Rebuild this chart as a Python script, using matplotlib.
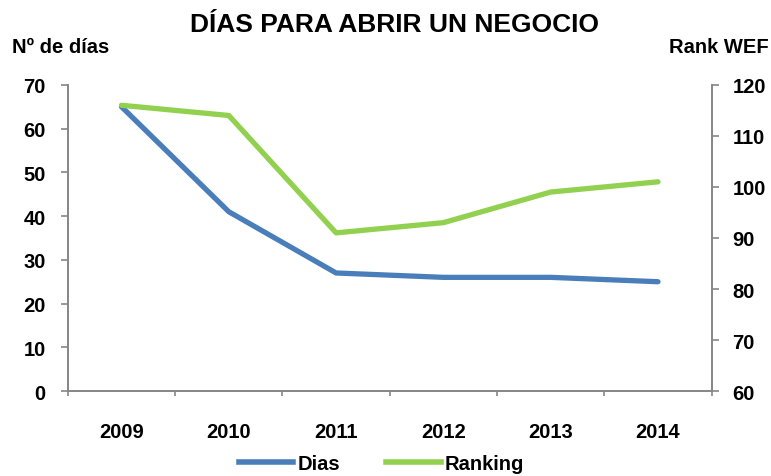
import matplotlib.pyplot as plt
from matplotlib.lines import Line2D

years = ['2009', '2010', '2011', '2012', '2013', '2014']
dias = [65, 41, 27, 26, 26, 25]
ranking = [116, 114, 91, 93, 99, 101]

plt.rcParams['font.family'] = ['Liberation Sans', 'DejaVu Sans']
plt.rcParams['font.weight'] = 'bold'

blue = '#4A7EBB'
green = '#92D050'
gray = '#868686'

fig = plt.figure(figsize=(7.71, 4.77), dpi=100)
ax = fig.add_axes([0.088, 0.178, 0.835, 0.642])
ax2 = ax.twinx()

x = range(len(years))
ax.plot(x, dias, color=blue, lw=3.8, solid_capstyle='round', solid_joinstyle='round', zorder=3)
ax2.plot(x, ranking, color=green, lw=3.8, solid_capstyle='round', solid_joinstyle='round', zorder=3)

ax.set_xlim(-0.5, len(years) - 0.5)
ax.set_ylim(0, 70)
ax.set_yticks(range(0, 71, 10))
ax2.set_ylim(60, 120)
ax2.set_yticks(range(60, 121, 10))

ax.set_xticks([i + 0.5 for i in range(-1, len(years))], minor=False)
ax.set_xticklabels([])
ax.set_xticks(list(x), minor=True)
ax.set_xticklabels(years, minor=True)
ax.tick_params(axis='x', which='minor', length=0, pad=22, labelsize=14.5)
ax.tick_params(axis='x', which='major', length=3.6, width=1.2, color=gray, direction='out')

ax.tick_params(axis='y', length=5, width=1.2, color=gray, labelsize=14.5, pad=11)
ax2.tick_params(axis='y', length=5, width=1.2, color=gray, labelsize=14.5, pad=10)

for a in (ax, ax2):
    a.spines['top'].set_visible(False)
    for s in ('left', 'right', 'bottom'):
        a.spines[s].set_color(gray)
        a.spines[s].set_linewidth(1.2)

fig.text(0.512, 0.947, 'DÍAS PARA ABRIR UN NEGOCIO', ha='center', va='center',
         fontsize=19, fontweight='bold')
fig.text(0.015, 0.90, 'Nº de días', ha='left', va='center', fontsize=14.5, fontweight='bold')
fig.text(0.997, 0.90, 'Rank WEF', ha='right', va='center', fontsize=14.5, fontweight='bold')

handles = [Line2D([], [], color=blue, lw=4), Line2D([], [], color=green, lw=4)]
fig.legend(handles, ['Dias', 'Ranking'], loc='center', bbox_to_anchor=(0.495, 0.027),
           ncol=2, frameon=False, handlelength=2.7, columnspacing=2.3,
           handletextpad=0.2, borderpad=0, prop={'weight': 'bold', 'size': 14.5})

fig.savefig('out.png', dpi=100)
